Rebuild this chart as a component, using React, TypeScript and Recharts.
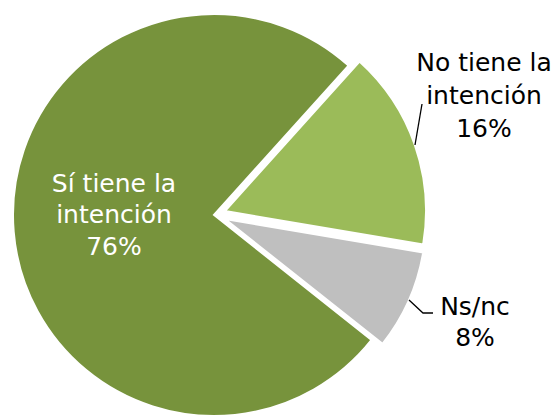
import React from "react";
import { PieChart, Pie, Cell } from "recharts";

// slice order follows the drawing order, clockwise from the top of the light green slice
const CATEGORIES = ["No tiene la intención", "Ns/nc", "Sí tiene la intención"];
const VALUES = [16, 8, 76];
const LABEL_LINES = [["No tiene la", "intención"], ["Ns/nc"], ["Sí tiene la", "intención"]];

const COLORS = ["#9BBB59", "#BFBFBF", "#77933C"];
const TEXT_COLORS = ["#000000", "#000000", "#ffffff"];

const data = CATEGORIES.map((name, i) => ({ name, value: VALUES[i] }));

// each slice gets its own pie so it can be pulled out from the centre
const PIES = [
  { slice: 2, cx: 214, cy: 215 },
  { slice: 0, cx: 225, cy: 211 },
  { slice: 1, cx: 225, cy: 219 },
];

const LABEL_POS = [
  { x: 484, y: 62, gap: 33, leader: "415,145 422,104" },
  { x: 475, y: 306, gap: 31, leader: "409,300 423,313 433,313" },
  { x: 114, y: 183, gap: 31.5, leader: "" },
];

const FONT = "'DejaVu Sans', Verdana, sans-serif";

function makeLabel(slice: number) {
  return (props: any) => {
    if (props.index !== slice) return <g />;
    const pos = LABEL_POS[slice];
    const lines = [...LABEL_LINES[slice], `${props.value}%`];
    return (
      <g>
        {pos.leader && <polyline points={pos.leader} fill="none" stroke="#000" strokeWidth={1.3} />}
        {lines.map((t, i) => (
          <text
            key={i}
            x={pos.x}
            y={pos.y + i * pos.gap}
            textAnchor="middle"
            dominantBaseline="central"
            fill={TEXT_COLORS[slice]}
            fontSize={25}
            fontFamily={FONT}
          >
            {t}
          </text>
        ))}
      </g>
    );
  };
}

export default function App() {
  return (
    <div style={{ position: "absolute", left: 0, top: 0, width: 556, height: 418, background: "#fff" }}>
      <PieChart width={556} height={418} margin={{ top: 0, right: 0, bottom: 0, left: 0 }}>
        {PIES.map((p) => (
          <Pie
            key={p.slice}
            data={data}
            dataKey="value"
            nameKey="name"
            cx={p.cx}
            cy={p.cy}
            outerRadius={201}
            startAngle={48}
            endAngle={-312}
            stroke="#fff"
            strokeWidth={2}
            label={makeLabel(p.slice)}
            labelLine={false}
            isAnimationActive={false}
          >
            {data.map((d, i) => (
              <Cell
                key={d.name}
                fill={i === p.slice ? COLORS[i] : "none"}
                stroke={i === p.slice ? "#fff" : "none"}
              />
            ))}
          </Pie>
        ))}
      </PieChart>
    </div>
  );
}
